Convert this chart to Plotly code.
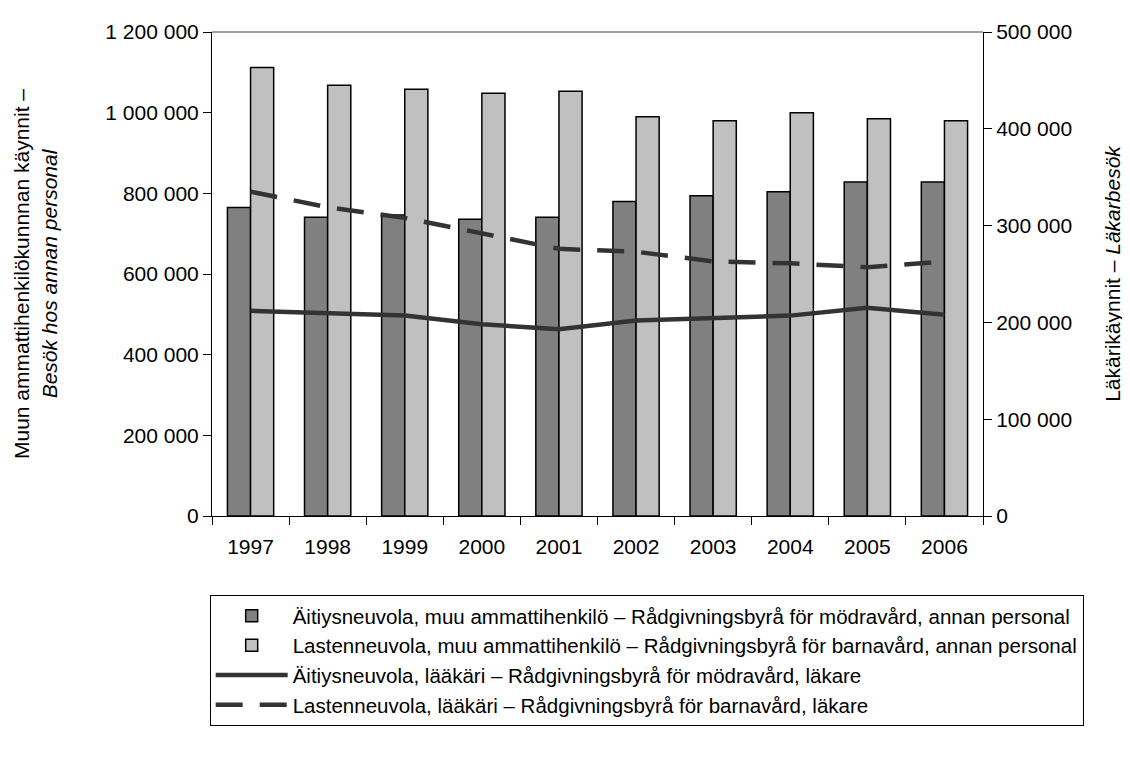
import plotly.graph_objects as go

years = ["1997", "1998", "1999", "2000", "2001", "2002", "2003", "2004", "2005", "2006"]
aitiys_muu = [765000, 741000, 746000, 736000, 741000, 780000, 794000, 804000, 828000, 828000]
lasten_muu = [1112000, 1068000, 1058000, 1048000, 1053000, 990000, 980000, 1000000, 985000, 980000]
aitiys_laakari = [212000, 209000, 207000, 198000, 193000, 202000, 205000, 207000, 215000, 208000]
lasten_laakari = [335000, 319000, 308000, 292000, 276000, 273000, 263000, 261000, 257000, 263000]

names = [
    "Äitiysneuvola, muu ammattihenkilö – Rådgivningsbyrå för mödravård, annan personal",
    "Lastenneuvola, muu ammattihenkilö – Rådgivningsbyrå för barnavård, annan personal",
    "Äitiysneuvola, lääkäri – Rådgivningsbyrå för mödravård, läkare",
    "Lastenneuvola, lääkäri – Rådgivningsbyrå för barnavård, läkare",
]

FONT = "Liberation Sans, Arial, sans-serif"
FS = 21

fig = go.Figure()
fig.add_trace(go.Bar(x=years, y=aitiys_muu, name=names[0], legendgroup="a",
                     marker=dict(color="#808080", line=dict(color="black", width=1.5))))
fig.add_trace(go.Bar(x=years, y=lasten_muu, name=names[1], legendgroup="b",
                     marker=dict(color="#c0c0c0", line=dict(color="black", width=1.5))))
fig.add_trace(go.Scatter(x=years, y=aitiys_laakari, name=names[2], legendgroup="c", yaxis="y2",
                         mode="lines", line=dict(color="#333333", width=4.5)))
fig.add_trace(go.Scatter(x=years, y=lasten_laakari, name=names[3], legendgroup="d", yaxis="y2",
                         mode="lines", line=dict(color="#333333", width=4.5, dash="27px,17px")))

fig.update_layout(
    width=1130, height=758,
    margin=dict(l=204, r=155, t=17, b=250),
    paper_bgcolor="white", plot_bgcolor="white",
    font=dict(family=FONT, size=FS, color="black"),
    separators=", ",
    barmode="group", bargap=0.4, bargroupgap=0,
    showlegend=True,
    legend=dict(
        x=-0.003, xanchor="left", y=-0.163, yanchor="top",
        bordercolor="black", borderwidth=1, bgcolor="white",
        font=dict(family=FONT, size=20.5, color="black"),
        tracegroupgap=5, traceorder="normal", itemwidth=72,
    ),
    xaxis=dict(
        type="category", showline=True, linecolor="black", linewidth=1,
        ticks="outside", ticklen=8, tickcolor="black", tickson="boundaries",
        showgrid=False, tickfont=dict(size=FS), ticklabelstandoff=12,
    ),
    yaxis=dict(
        range=[0, 1200000], dtick=200000, tickformat=",d",
        showline=True, linecolor="black", linewidth=1,
        ticks="outside", ticklen=8, tickcolor="black", showgrid=False, zeroline=False,
        tickfont=dict(size=FS),
        title=dict(text="Muun ammattihenkilökunnnan käynnit –<br><i>Besök hos annan personal</i>",
                   font=dict(size=FS), standoff=42),
    ),
    yaxis2=dict(
        range=[0, 500000], dtick=100000, tickformat=",d", overlaying="y", side="right",
        showline=True, linecolor="black", linewidth=1,
        ticks="outside", ticklen=8, tickcolor="black", showgrid=False, zeroline=False,
        tickfont=dict(size=FS),
        title=dict(text="Läkärikäynnit – <i>Läkarbesök</i>", font=dict(size=FS), standoff=34),
    ),
    shapes=[dict(type="line", xref="paper", yref="paper", x0=0, x1=1, y0=1, y1=1,
                 line=dict(color="#808080", width=1.5))],
)

fig.write_html("out.html")
